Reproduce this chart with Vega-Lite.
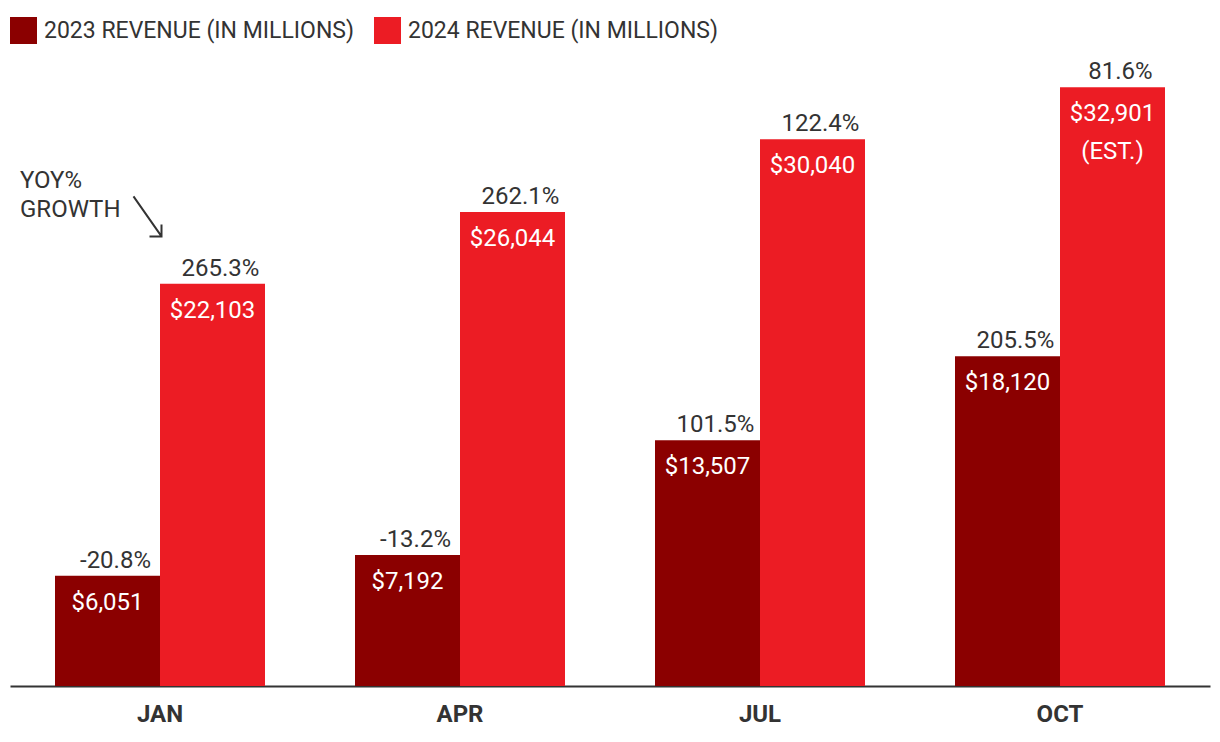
{
  "$schema": "https://vega.github.io/schema/vega-lite/v6.json",
  "width": 1200,
  "height": 637,
  "padding": {"left": 10, "top": 17, "right": 10, "bottom": 5},
  "background": "white",
  "config": {
    "view": {"stroke": null},
    "font": "Roboto",
    "text": {"font": "Roboto"}
  },
  "datasets": {
    "bars": [
      {"month": "JAN", "series": "2023 REVENUE (IN MILLIONS)", "value": 6051, "label": "$6,051", "pct": "-20.8%"},
      {"month": "JAN", "series": "2024 REVENUE (IN MILLIONS)", "value": 22103, "label": "$22,103", "pct": "265.3%"},
      {"month": "APR", "series": "2023 REVENUE (IN MILLIONS)", "value": 7192, "label": "$7,192", "pct": "-13.2%"},
      {"month": "APR", "series": "2024 REVENUE (IN MILLIONS)", "value": 26044, "label": "$26,044", "pct": "262.1%"},
      {"month": "JUL", "series": "2023 REVENUE (IN MILLIONS)", "value": 13507, "label": "$13,507", "pct": "101.5%"},
      {"month": "JUL", "series": "2024 REVENUE (IN MILLIONS)", "value": 30040, "label": "$30,040", "pct": "122.4%"},
      {"month": "OCT", "series": "2023 REVENUE (IN MILLIONS)", "value": 18120, "label": "$18,120", "pct": "205.5%"},
      {"month": "OCT", "series": "2024 REVENUE (IN MILLIONS)", "value": 32901, "label": "$32,901\n(EST.)", "pct": "81.6%"}
    ],
    "note": [
      {"month": "JAN", "value": 27363, "text": "YOY%\nGROWTH"}
    ],
    "arrow": [
      {"month": "JAN", "value": 25800}
    ]
  },
  "encoding": {
    "x": {
      "field": "month",
      "type": "nominal",
      "sort": ["JAN", "APR", "JUL", "OCT"],
      "scale": {"paddingInner": 0.3, "paddingOuter": 0.15},
      "axis": {
        "title": null,
        "labelAngle": 0,
        "labelFont": "Roboto",
        "labelFontSize": 24,
        "labelFontWeight": "bold",
        "labelColor": "#333333",
        "labelPadding": 16,
        "ticks": false,
        "domainColor": "#333333",
        "domainWidth": 2
      }
    },
    "y": {
      "field": "value",
      "type": "quantitative",
      "scale": {"domain": [0, 35000], "nice": false},
      "axis": null
    }
  },
  "layer": [
    {
      "data": {"name": "bars"},
      "mark": {"type": "bar"},
      "encoding": {
        "xOffset": {"field": "series", "type": "nominal", "scale": {"paddingInner": 0, "paddingOuter": 0}},
        "color": {
          "field": "series",
          "type": "nominal",
          "scale": {"range": ["#8b0000", "#ec1c24"]},
          "legend": {
            "title": null,
            "orient": "none",
            "legendX": 0,
            "legendY": -32,
            "direction": "horizontal",
            "symbolType": "square",
            "symbolSize": 729,
            "symbolStrokeWidth": 0,
            "symbolOpacity": 1,
            "labelFont": "Roboto",
            "labelFontSize": 23,
            "labelColor": "#333333",
            "labelOffset": 7,
            "columnPadding": 20,
            "labelLimit": 500
          }
        }
      }
    },
    {
      "data": {"name": "bars"},
      "mark": {"type": "text", "dy": 34, "baseline": "alphabetic", "fontSize": 24, "color": "white", "lineBreak": "\n", "lineHeight": 38},
      "encoding": {
        "xOffset": {"field": "series", "type": "nominal"},
        "text": {"field": "label"}
      }
    },
    {
      "data": {"name": "bars"},
      "mark": {"type": "text", "dy": -8, "dx": 8, "baseline": "alphabetic", "fontSize": 24, "color": "#333333"},
      "encoding": {
        "xOffset": {"field": "series", "type": "nominal"},
        "text": {"field": "pct"}
      }
    },
    {
      "data": {"name": "note"},
      "mark": {"type": "text", "align": "left", "dx": -140, "baseline": "alphabetic", "fontSize": 24, "color": "#333333", "lineBreak": "\n", "lineHeight": 29},
      "encoding": {
        "text": {"field": "text"}
      }
    },
    {
      "data": {"name": "arrow"},
      "mark": {"type": "point", "shape": "M-0.7,-1L0.7,1M0.7,0.4L0.7,1L0.1,1", "size": 1600, "filled": false, "stroke": "#333333", "strokeWidth": 2, "opacity": 1, "xOffset": -12.5},
      "encoding": {}
    }
  ]
}
